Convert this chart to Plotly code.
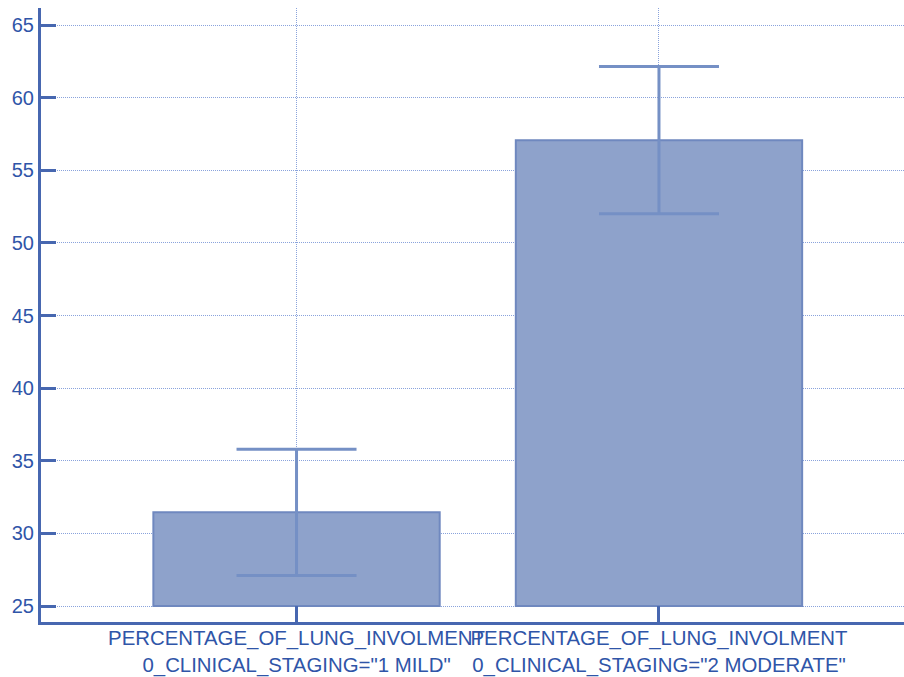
import plotly.graph_objects as go

categories = [
    'PERCENTAGE_OF_LUNG_INVOLMENT<br>0_CLINICAL_STAGING="1 MILD"',
    'PERCENTAGE_OF_LUNG_INVOLMENT<br>0_CLINICAL_STAGING="2 MODERATE"',
]
means = [31.45, 57.07]
errors = [4.35, 5.07]
baseline = 25
y_ticks = [25, 30, 35, 40, 45, 50, 55, 60, 65]

axis_color = "#4767b0"
text_color = "#2f55a8"
grid_color = "#8aa3dc"

fig = go.Figure()
fig.add_trace(go.Bar(
    x=categories,
    y=[m - baseline for m in means],
    base=baseline,
    width=0.79,
    marker=dict(color="#8ea2cb", line=dict(color="#6f88bf", width=2)),
    hoverinfo="skip",
))
fig.add_trace(go.Scatter(
    x=categories,
    y=means,
    mode="markers",
    marker=dict(size=0.1, opacity=0),
    error_y=dict(type="data", array=errors, visible=True,
                 color="#7590c5", thickness=3, width=60),
    hoverinfo="skip",
))

fig.update_layout(
    width=904, height=677,
    margin=dict(l=41, r=0, t=8, b=55),
    paper_bgcolor="white", plot_bgcolor="white",
    showlegend=False,
    font=dict(family="Arial, Liberation Sans, sans-serif", color=text_color),
)
fig.update_xaxes(
    range=[-0.705, 1.676],
    automargin=False,
    tickangle=0,
    showline=True, linecolor=axis_color, linewidth=3,
    ticks="inside", ticklen=16, tickwidth=3, tickcolor=axis_color,
    showgrid=True, gridcolor=grid_color, griddash="1px,1px", gridwidth=1,
    tickfont=dict(size=20.4, color=text_color),
    ticklabelstandoff=-4,
    zeroline=False,
)
fig.update_yaxes(
    range=[23.9, 66.17],
    tickvals=y_ticks,
    automargin=False,
    showline=True, linecolor=axis_color, linewidth=3,
    ticks="inside", ticklen=15, tickwidth=3, tickcolor=axis_color,
    showgrid=True, gridcolor=grid_color, griddash="1px,1px", gridwidth=1,
    tickfont=dict(size=20, color=text_color),
    zeroline=False,
)

fig.write_html(
    "out.html",
    config={"displayModeBar": False},
    post_script="document.body.style.margin='0';document.body.style.overflow='hidden';",
)
